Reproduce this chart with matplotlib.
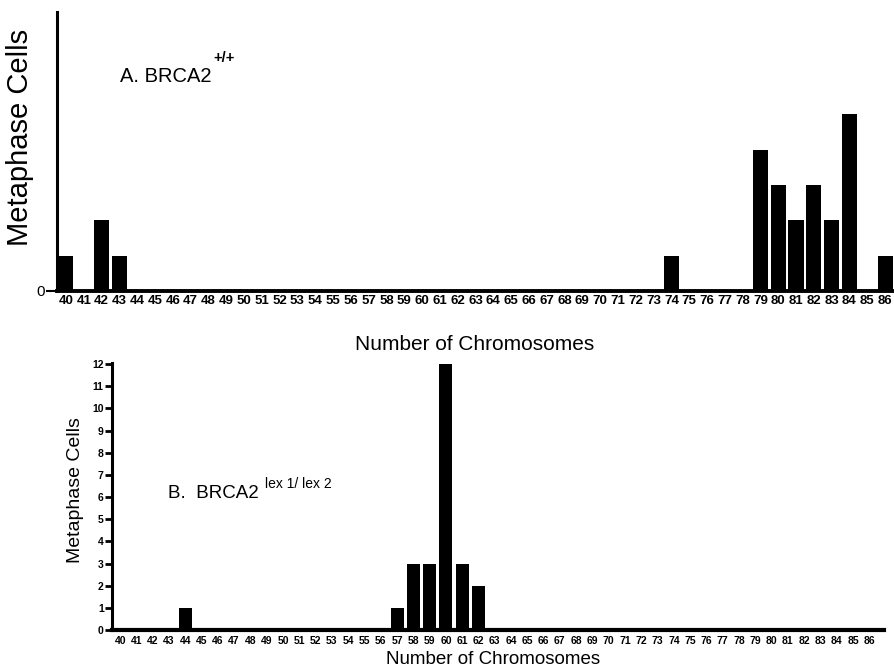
import matplotlib
matplotlib.use("Agg")
import matplotlib.pyplot as plt
import numpy as np

# chromosome numbers shown on both x axes
chromosomes = list(range(40, 87))

# A. BRCA2 +/+
a_chrom = [40, 42, 43, 74, 79, 80, 81, 82, 83, 84, 86]
a_cells = [1, 2, 1, 1, 4, 3, 2, 3, 2, 5, 1]

# B. BRCA2 lex1/lex2
b_chrom = [44, 57, 58, 59, 60, 61, 62]
b_cells = [1, 1, 3, 3, 12, 3, 2]
b_yticks = list(range(0, 13))

ARIAL = ['Liberation Sans', 'DejaVu Sans']

fig = plt.figure(figsize=(8.94, 6.72), dpi=100)

# ---- panel A
ax1 = fig.add_axes([57 / 894, 1 - 291 / 672, 1 - 57 / 894, 279 / 672])
xa = [chromosomes.index(c) for c in a_chrom]
ax1.bar(xa, a_cells, width=0.85, color='black')
ax1.set_xlim(-0.5, 46.5)
ax1.set_ylim(0, 7.9)
ax1.set_xticks(range(len(chromosomes)))
ax1.set_xticklabels([str(c) for c in chromosomes], family=ARIAL,
                    fontweight='bold', fontsize=9.5)
ax1.tick_params(axis='x', length=0, pad=3)
ax1.set_yticks([0])
ax1.set_yticklabels(['0'], family=ARIAL, fontsize=11)
ax1.tick_params(axis='y', length=8, width=1.5, pad=1)
for s in ['top', 'right']:
    ax1.spines[s].set_visible(False)
ax1.spines['left'].set_linewidth(2.2)
ax1.spines['bottom'].set_linewidth(2.8)

fig.text(20 / 894, 1 - 137 / 672, 'Metaphase Cells', rotation=90,
         ha='center', va='center', family=ARIAL, fontsize=21)
fig.text(120 / 894, 1 - 82 / 672, 'A. BRCA2', ha='left', va='baseline',
         family=ARIAL, fontsize=14.5)
fig.text(213 / 894, 1 - 62 / 672, '+/+', ha='left', va='baseline',
         family=ARIAL, fontsize=10.5, fontweight='bold')
fig.text(475 / 894, 1 - 345 / 672, 'Number of Chromosomes', ha='center',
         va='center', family=ARIAL, fontsize=15)

# ---- panel B
ax2 = fig.add_axes([112 / 894, 1 - 630 / 672, (884 - 112) / 894, 267 / 672])
xb = [chromosomes.index(c) for c in b_chrom]
ax2.bar(xb, b_cells, width=0.8, color='black')
ax2.set_xlim(-0.5, 46.9)
ax2.set_ylim(0, 12.05)
ax2.set_xticks(range(len(chromosomes)))
ax2.set_xticklabels([str(c) for c in chromosomes], family=ARIAL,
                    fontweight='bold', fontsize=7.5)
ax2.tick_params(axis='x', length=0, pad=4)
ax2.set_yticks(b_yticks)
ax2.set_yticklabels([str(v) for v in b_yticks], family=ARIAL,
                    fontweight='bold', fontsize=7.5)
ax2.tick_params(axis='y', length=5, width=2, pad=1)
for s in ['top', 'right']:
    ax2.spines[s].set_visible(False)
ax2.spines['left'].set_linewidth(2.2)
ax2.spines['bottom'].set_linewidth(3)

fig.text(75 / 894, 1 - 490 / 672, 'Metaphase Cells', rotation=90,
         ha='center', va='center', family=ARIAL, fontsize=14)
fig.text(168 / 894, 1 - 498 / 672, 'B.  BRCA2', ha='left', va='baseline',
         family=ARIAL, fontsize=13.5)
fig.text(265 / 894, 1 - 488 / 672, 'lex 1/ lex 2', ha='left', va='baseline',
         family=ARIAL, fontsize=10)
fig.text(493 / 894, 1 - 660 / 672, 'Number of Chromosomes', ha='center',
         va='center', family=ARIAL, fontsize=13.5)

fig.savefig('out.png', dpi=100)
